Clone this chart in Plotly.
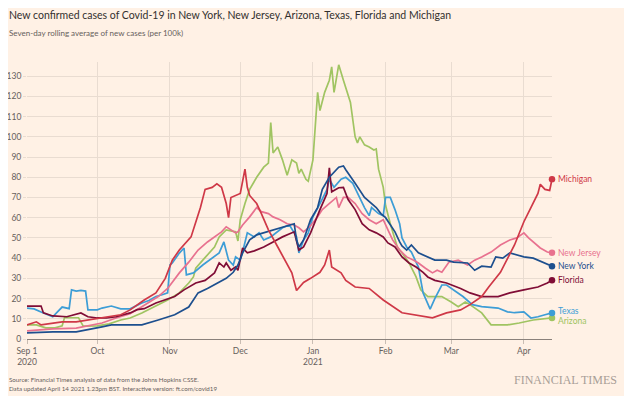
import pandas as pd
import plotly.graph_objects as go

start = pd.Timestamp("2020-09-01")

# ---- data: day offsets from Sep 1 2020 and 7-day average per 100k ----
michigan_days = [0,4,6,11,15,21,26,32,40,44,50,55,59,62,65,70,72,74,76,79,81,83,85,86,87,91,93,94,95,98,100,103,107,110,113,115,118,121,125,127,129,130,134,136,140,146,152,160,165,173,179,185,189,194,197,202,208,212,215,218,219,221,223,224]
michigan_vals = [7,8.5,7,8,8.5,8.5,9.4,10.3,12,14.4,19.3,22.8,30,39,44,50.5,58,65,74,75,76.7,75,67,60,70,72,84,75,71,67,62,54,45.5,39,32.7,24,28,30,33,36.6,44,35.6,32.7,29,25.7,25,19.3,13,12,10.5,12.9,14.4,17,21,25.7,33,46.5,58,65,72,76.5,74,73.5,79]

texas_days = [0,3,6,9,11,13,15,18,19,21,23,25,26,30,32,36,40,44,49,52,55,58,60,61,62,65,67,68,71,75,79,82,84,86,88,89,91,92,94,97,99,101,104,107,109,112,115,116,118,120,122,125,128,129,131,134,136,139,141,144,146,147,150,152,153,155,157,159,160,162,164,167,169,172,174,177,179,182,186,190,194,201,205,208,212,215,218,221,224]
texas_vals = [15.3,14.9,13.4,12,11,13.4,15.8,15,24.3,23.7,24,23.7,14.4,14.4,15.3,16.3,14.9,14.9,17.8,19,21,22,22.8,36.6,37.6,42.5,45,31.7,32.7,36.6,40,42.6,48,39,36.6,40.6,39,43,52.5,50.5,52.5,49,50.5,53,55,56.4,50.5,42.6,49,52.5,60.4,67,74,79,75,79,80,77,72,65,61,65,62,61,70,70,64,57,50,45.5,43,35.6,22.8,14.8,20,26.7,26.7,24.3,21,17,16,15.3,13.4,13,13.4,10.4,11,12,12.9]

newyork_days = [0,11,21,26,32,36,44,49,56,63,69,73,77,82,85,88,90,92,95,98,101,105,109,114,115,116,118,121,124,126,129,133,135,136,140,144,149,151,153,155,157,159,160,162,164,167,172,174,179,182,188,191,194,198,200,203,206,209,212,216,220,224]
newyork_vals = [3,3.5,3.5,4.5,6,7,7,7,9.4,12,15.8,22.8,25,28,30,33,36.6,42.6,49,51.5,52.5,54,55.5,57,49,45.5,49,59,65,74,80,85,85.6,83.7,77,70,65,62,60,56.4,53,48,46,44,46.5,42.6,40,39,39,38,37.6,34,36,35.6,40.6,40,42.6,41.6,40.6,40,38,36]

newjersey_days = [0,11,21,32,38,44,49,56,60,65,69,73,77,80,83,85,89,90,92,95,98,100,103,105,108,111,114,116,118,121,124,126,129,132,133,135,137,140,143,146,149,152,154,156,159,162,165,167,170,173,175,177,180,184,188,191,194,198,202,206,209,212,214,216,219,222,224]
newjersey_vals = [4,5,5.4,7.9,10.4,12.5,16,21,25,32.7,38,44,48,50.5,53,55.5,52.5,53,56.4,60.4,65,63,62,60.4,59,57,56.4,55,53,56,60.4,64,67,70,65,70,70,67,62,59,57,59,54,49,44,40.6,39,37.6,35,32.7,34,33,38,39,36.6,39,40.6,43,46.5,49,50,52.5,50,48,45,43,42.6]

florida_days = [0,6,7,11,17,20,23,26,30,34,38,41,44,47,50,55,59,63,67,72,76,80,82,84,85,87,89,90,92,94,97,101,105,109,114,116,118,121,125,128,129,130,133,135,137,140,143,146,149,152,154,157,160,163,166,169,171,174,179,185,189,194,201,206,212,218,222,224]
florida_vals = [16.3,16.3,12.9,11.4,11,12,12.9,11,10.4,10.4,11,12,12.9,14.5,15,17.8,19.3,21,24.3,27.7,29,32.7,37.6,35.6,37.6,34,35.6,34,45,42.6,43.6,45.5,48,50.5,53,44,45.5,52.5,64,72,84.6,72.8,74.8,75,69,64,57,54,52.5,50.5,47.5,45.5,40.6,37.6,35.6,33,30.7,29,27.7,25,22.8,21,21,22.8,24.3,25.7,27.7,29]

arizona_days = [0,4,8,12,15,16,22,24,30,35,40,44,49,56,60,65,69,71,72,75,78,80,82,85,87,89,90,91,93,95,98,101,103,104,105,107,109,111,113,115,116,117,119,120,122,123,124,125,127,129,130,131,133,135,138,140,141,142,144,146,148,149,150,152,153,155,158,160,163,166,168,171,177,181,184,187,189,194,198,205,210,216,224]
arizona_vals = [7,7,5.5,5.5,6.5,10.5,10.5,6.4,6.5,7.5,9.4,10.4,12.9,17,19.3,22.8,27.7,30.7,35,39,42.6,45.5,50.5,54,53.5,53,48.5,59,67,74,80,85,87,107,92,95,88.6,81,88.6,87,82,84,79,78,88.6,105,122,113,122,128,134.6,122,135.6,128,117,100,97,100,96,95,93.5,94,84,75,66,57,45.5,42.6,37.6,30.7,24.3,21,21,18.3,16,18.3,17,12.9,7,7,7.9,9.4,10.4]

month_ticks = ["2020-09-01","2020-10-01","2020-11-01","2020-12-01","2021-01-01","2021-02-01","2021-03-01","2021-04-01"]
month_labels = ["Sep 1<br>2020","Oct","Nov","Dec","Jan<br>2021","Feb","Mar","Apr"]
y_ticks = list(range(0, 131, 10))

# ---- styles ----
BG = "#fff1e5"
GRID = "#e9dcd1"
TXT = "#66605c"
FONT = "Lato"

series = [
    ("Arizona", arizona_days, arizona_vals, "#a0c462", -3),
    ("Texas", texas_days, texas_vals, "#3d9dd6", 2),
    ("New Jersey", newjersey_days, newjersey_vals, "#e8718f", 0),
    ("Florida", florida_days, florida_vals, "#800d36", 0),
    ("New York", newyork_days, newyork_vals, "#1d4f8e", 0),
    ("Michigan", michigan_days, michigan_vals, "#cf3847", 0),
]

def to_dates(days):
    return [start + pd.Timedelta(days=d) for d in days]

fig = go.Figure()
annotations = []
for name, days, vals, color, yshift in series:
    dates = to_dates(days)
    fig.add_trace(go.Scatter(x=dates, y=vals, mode="lines", name=name,
                             line=dict(color=color, width=1.7), hoverinfo="skip"))
    fig.add_trace(go.Scatter(x=[dates[-1]], y=[vals[-1]], mode="markers",
                             marker=dict(color=color, size=6.5), cliponaxis=False,
                             hoverinfo="skip"))
    annotations.append(dict(x=dates[-1], y=vals[-1], xref="x", yref="y", text=name,
                            showarrow=False, xanchor="left", yanchor="middle",
                            xshift=4, yshift=yshift,
                            font=dict(family=FONT, size=8.5, color=color)))

# plot area in page pixels: x 27..552, y 62..339 (page has an 8px body margin)
def px(x):
    return (x - 27) / 525.0
def py(y):
    return (339 - y) / 277.0

annotations += [
    dict(xref="paper", yref="paper", x=px(7), y=py(15), xanchor="left", yanchor="middle",
         showarrow=False,
         text="New confirmed cases of Covid-19 in New York, New Jersey, Arizona, Texas, Florida and Michigan",
         font=dict(family=FONT, size=10.5, color="#33302e")),
    dict(xref="paper", yref="paper", x=px(7), y=py(33), xanchor="left", yanchor="middle",
         showarrow=False, text="Seven-day rolling average of new cases (per 100k)",
         font=dict(family=FONT, size=8, color=TXT)),
    dict(xref="paper", yref="paper", x=px(7), y=py(379), xanchor="left", yanchor="middle",
         showarrow=False, text="Source: Financial Times analysis of data from the Johns Hopkins CSSE.",
         font=dict(family=FONT, size=6.2, color=TXT)),
    dict(xref="paper", yref="paper", x=px(7), y=py(388), xanchor="left", yanchor="middle",
         showarrow=False,
         text="Data updated April 14 2021 1.23pm BST. Interactive version: ft.com/covid19",
         font=dict(family=FONT, size=6.2, color=TXT)),
    dict(xref="paper", yref="paper", x=px(619), y=py(380), xanchor="right", yanchor="middle",
         showarrow=False, text="FINANCIAL TIMES",
         font=dict(family="Liberation Serif", size=12, color="#a89e97")),
]

fig.update_layout(
    width=624, height=388,
    margin=dict(l=19, r=80, t=54, b=57),
    paper_bgcolor=BG, plot_bgcolor=BG,
    showlegend=False,
    annotations=annotations,
    font=dict(family=FONT, color=TXT),
)
fig.update_xaxes(
    range=[start, start + pd.Timedelta(days=224)],
    tickvals=month_ticks, ticktext=month_labels,
    showgrid=True, gridcolor=GRID, gridwidth=1,
    showline=True, linecolor="#8a817b", linewidth=1,
    ticks="outside", ticklen=4, tickcolor="#c9bdb3",
    tickfont=dict(family=FONT, size=8.5, color=TXT),
    zeroline=False, automargin=False,
)
fig.update_yaxes(
    range=[0, 137],
    tickvals=y_ticks,
    showgrid=True, gridcolor=GRID, gridwidth=1,
    ticks="outside", ticklen=3, tickcolor=GRID,
    tickfont=dict(family=FONT, size=8.5, color=TXT),
    zeroline=False, showline=False, automargin=False,
)

fig.write_html("out.html")
